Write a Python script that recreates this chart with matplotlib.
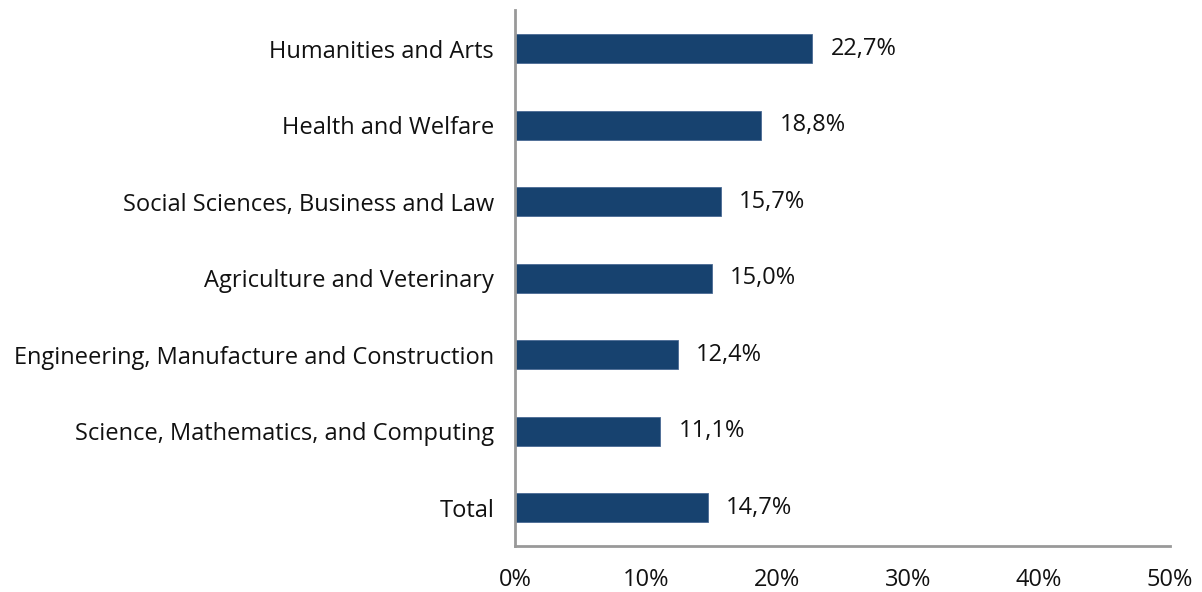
import matplotlib.pyplot as plt

categories = ["Humanities and Arts", "Health and Welfare", "Social Sciences, Business and Law",
              "Agriculture and Veterinary", "Engineering, Manufacture and Construction",
              "Science, Mathematics, and Computing", "Total"]
values = [22.7, 18.8, 15.7, 15.0, 12.4, 11.1, 14.7]
xticks = [0, 10, 20, 30, 40, 50]

plt.rcParams['font.family'] = ['Open Sans', 'DejaVu Sans']

fig = plt.figure(figsize=(12.02, 5.92), dpi=100)
ax = fig.add_axes([0.4285, 0.0777, 0.545, 0.905])

pos = list(range(len(categories)))[::-1]
ax.barh(pos, values, height=0.38, color='#17426f', edgecolor='#4a6a94', linewidth=0.6)

for p, v in zip(pos, values):
    ax.text(v + 1.4, p, f"{v:.1f}%".replace('.', ','), va='center', ha='left', fontsize=17, color='#111111')

ax.set_yticks(pos)
ax.set_yticklabels(categories, fontsize=17)
ax.set_xticks(xticks)
ax.set_xticklabels([f"{t}%" for t in xticks], fontsize=17)
ax.set_xlim(0, 50)
ax.set_ylim(-0.5, 6.5)
ax.tick_params(axis='both', length=0, colors='#111111')
ax.tick_params(axis='x', pad=16)
ax.tick_params(axis='y', pad=15)

for s in ['top', 'right']:
    ax.spines[s].set_visible(False)
for s in ['left', 'bottom']:
    ax.spines[s].set_color('#999999')
    ax.spines[s].set_linewidth(2)

fig.savefig('out.png', dpi=100)
